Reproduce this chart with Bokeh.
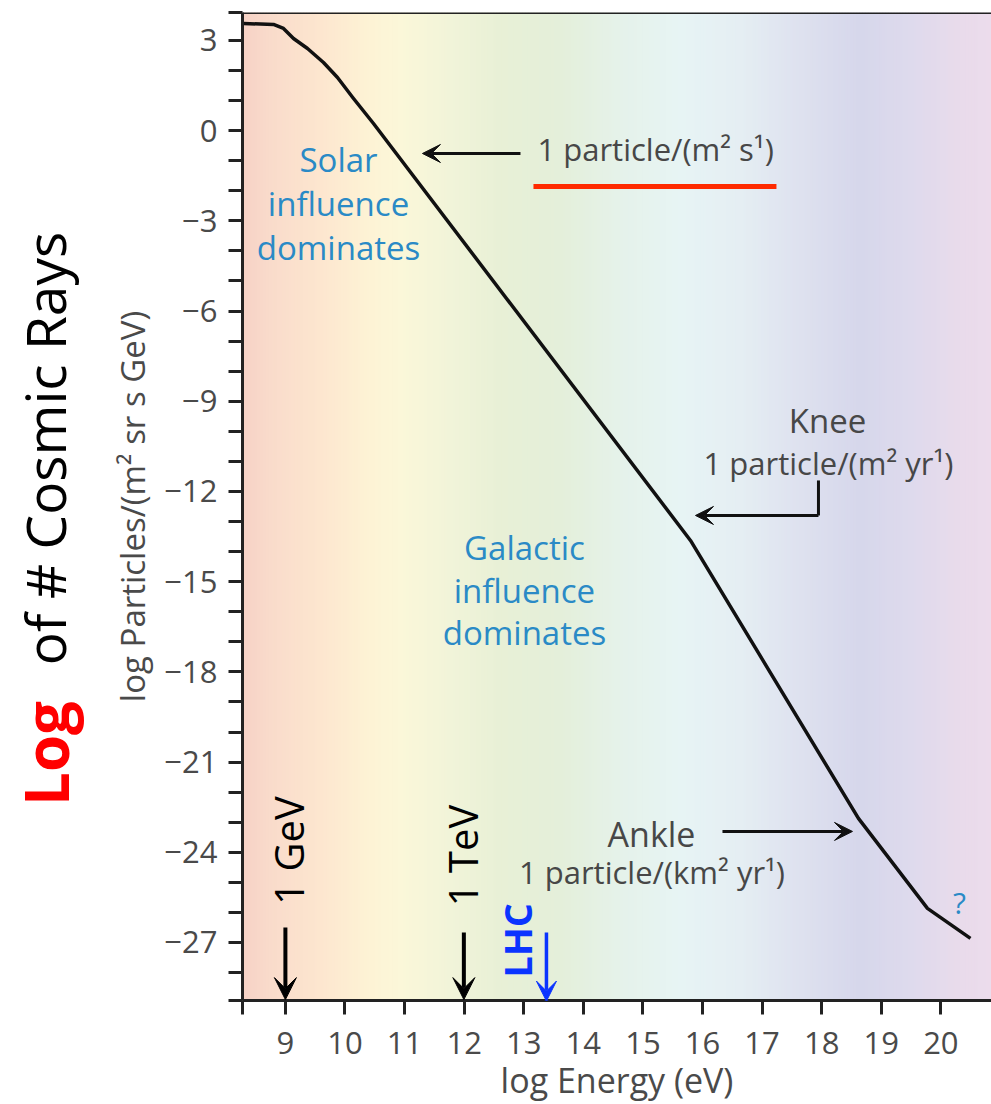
import numpy as np
from math import pi
from bokeh.plotting import figure
from bokeh.layouts import row
from bokeh.models import Label, Arrow, VeeHead, Span, FixedTicker, Range1d
from bokeh.embed import file_html
from bokeh.resources import INLINE

# ---------------- data ----------------
log_energy = [8.297, 8.800, 8.968, 9.136, 9.371, 9.639, 9.874, 10.143, 10.478,
              15.798, 18.617, 19.775, 20.497]
log_flux = [3.564, 3.531, 3.398, 3.065, 2.733, 2.267, 1.768, 1.070, 0.239,
            -13.629, -22.874, -25.867, -26.865]

x_ticks = list(range(9, 21))
y_ticks = list(range(-27, 4, 3))
y_minor = [v for v in range(-28, 4) if v % 3 != 0]
y_tick_labels = {t: ("\u2212%d" % -t if t < 0 else str(t)) for t in y_ticks}

X0, X1 = 8.28, 20.85
Y0, Y1 = -28.93, 3.93

# background gradient stops (fraction of width, colour)
grad_stops = [(0.000, "#f6d2c6"), (0.037, "#f9dbcb"), (0.104, "#fde6cf"),
              (0.171, "#fdf3d5"), (0.211, "#fbf7d9"), (0.278, "#f1f4d9"),
              (0.344, "#e8f0d6"), (0.425, "#e4efda"), (0.505, "#e5f2ea"),
              (0.585, "#e7f4f4"), (0.665, "#e5eef3"), (0.745, "#dee1ef"),
              (0.825, "#d6d7eb"), (0.892, "#dedaed"), (0.959, "#e9dbeb"),
              (1.000, "#ecdcec")]

# ---------------- side panel with the big title ----------------
side = figure(frame_width=100, frame_height=1104,
              x_range=Range1d(0, 100), y_range=Range1d(1104, 0),
              output_backend="svg", toolbar_location=None, min_border=0,
              x_axis_location=None, y_axis_location=None)
side.outline_line_color = None
side.xgrid.visible = False
side.ygrid.visible = False
side.add_layout(Label(x=45, y=741, text="Log", angle=pi / 2, text_align="center",
                      text_baseline="middle", text_font="Open Sans",
                      text_font_size="60px", text_font_style="bold",
                      text_color="#ff0000"))
side.add_layout(Label(x=44, y=436, text="of # Cosmic Rays", angle=pi / 2,
                      text_align="center", text_baseline="middle",
                      text_font="Open Sans", text_font_size="55px",
                      text_color="#000000"))

# ---------------- main figure ----------------
p = figure(frame_width=749, frame_height=988,
           x_range=Range1d(X0, X1), y_range=Range1d(Y0, Y1),
           output_backend="svg", toolbar_location=None,
           min_border_left=142, min_border_right=0,
           min_border_top=12, min_border_bottom=104)
p.outline_line_color = None
p.xgrid.visible = False
p.ygrid.visible = False
p.background_fill_color = "white"
p.border_fill_color = "white"

# gradient background
n = 260
edges = np.linspace(X0, X1, n + 1)
fr = (0.5 * (edges[:-1] + edges[1:]) - X0) / (X1 - X0)
sf = [s[0] for s in grad_stops]
def ch(c, i):
    return int(c[1 + 2 * i:3 + 2 * i], 16)
cols = []
for f in fr:
    r = np.interp(f, sf, [ch(s[1], 0) for s in grad_stops])
    g = np.interp(f, sf, [ch(s[1], 1) for s in grad_stops])
    b = np.interp(f, sf, [ch(s[1], 2) for s in grad_stops])
    cols.append("#%02x%02x%02x" % (int(round(r)), int(round(g)), int(round(b))))
p.quad(left=edges[:-1], right=edges[1:] + 0.02, bottom=Y0, top=Y1,
       fill_color=cols, line_color=None)

# spectrum curve
p.line(log_energy, log_flux, line_width=3.5, line_color="#111111", line_join="round")

# ---------------- axes ----------------
axis_col = "#222222"
tick_font = "Open Sans"
xa = p.xaxis[0]
xa.ticker = FixedTicker(ticks=x_ticks, minor_ticks=[X0 + 0.004])
ya = p.yaxis[0]
ya.ticker = FixedTicker(ticks=y_ticks, minor_ticks=y_minor + [Y0 + 0.004, Y1 - 0.004])
ya.major_label_overrides = y_tick_labels
for ax in (xa, ya):
    ax.axis_line_color = axis_col
    ax.axis_line_width = 3
    ax.major_tick_line_color = axis_col
    ax.minor_tick_line_color = axis_col
    ax.major_tick_line_width = 3
    ax.minor_tick_line_width = 3
    ax.major_tick_in = 0
    ax.minor_tick_in = 0
    ax.major_tick_out = 14
    ax.minor_tick_out = 14
    ax.major_label_text_font = tick_font
    ax.major_label_text_font_size = "31px"
    ax.major_label_text_color = "#4a4a4a"
    ax.axis_label_text_font = tick_font
    ax.axis_label_text_font_style = "normal"
    ax.axis_label_text_color = "#4a4a4a"
xa.axis_label = "log Energy (eV)"
xa.axis_label_text_font_size = "34px"
xa.major_label_standoff = 17
xa.axis_label_standoff = 0
ya.axis_label = "log Particles/(m\u00b2 sr s GeV)"
ya.axis_label_text_font_size = "33px"
ya.major_label_standoff = 11
ya.axis_label_standoff = 6

p.add_layout(Span(location=Y1, dimension="width", line_color=axis_col, line_width=3))

# ---------------- annotations ----------------
blue_txt = "#2a8ac6"
gray_txt = "#474747"
ann_font = "Open Sans"

def lab(x, y, text, size, color, align="center", angle=0.0, style="normal", lh=1.2):
    p.add_layout(Label(x=x, y=y, text=text, text_font=ann_font, text_font_size=size,
                       text_color=color, text_align=align, text_baseline="middle",
                       angle=angle, text_font_style=style, text_line_height=lh))

def arrow(x0, y0, x1, y1, color="#111111", width=3, size=18, head=True):
    p.add_layout(Arrow(x_start=x0, y_start=y0, x_end=x1, y_end=y1,
                       line_color=color, line_width=width,
                       end=VeeHead(size=size, fill_color=color, line_color=color,
                                   line_width=1) if head else None))

lab(9.891, -2.422, "Solar\ninfluence\ndominates", "33px", blue_txt, lh=0.975)
lab(13.012, -15.292, "Galactic\ninfluence\ndominates", "33px", blue_txt, lh=0.944)

lab(13.230, -0.626, "1 particle/(m\u00b2 s\u00b9)", "31px", gray_txt, align="left")
arrow(12.945, -0.759, 11.30, -0.759)
p.add_layout(Arrow(x_start=13.163, y_start=-1.857, x_end=17.241, y_end=-1.857,
                   line_color="#ff2a00", line_width=5, end=None))

lab(18.097, -9.635, "Knee", "33px", gray_txt)
lab(18.114, -11.037, "1 particle/(m\u00b2 yr\u00b9)", "31px", gray_txt)
arrow(17.946, -11.634, 17.946, -12.798, head=False)
arrow(17.946, -12.798, 15.882, -12.798)

lab(15.144, -23.376, "Ankle", "34px", gray_txt)
lab(15.152, -24.669, "1 particle/(km\u00b2 yr\u00b9)", "31px", gray_txt)
arrow(16.335, -23.307, 18.517, -23.307)

lab(20.312, -25.667, "?", "30px", blue_txt)

# energy markers (rotated, centred on their glyph column)
lab(9.05, -23.94, "1 GeV", "40px", "#000000", angle=pi / 2)
arrow(9.0, -26.499, 9.0, -28.90, color="#000000", width=4, size=22)
lab(11.97, -24.105, "1 TeV", "40px", "#000000", angle=pi / 2)
arrow(11.995, -26.665, 11.995, -28.90, color="#000000", width=4, size=22)
lab(12.895, -26.932, "LHC", "38px", "#0a34ff", angle=pi / 2, style="bold")
arrow(13.381, -26.665, 13.381, -28.95, color="#0a34ff", width=3.5, size=20)

open("out.html", "w").write(file_html(row(side, p), INLINE))
